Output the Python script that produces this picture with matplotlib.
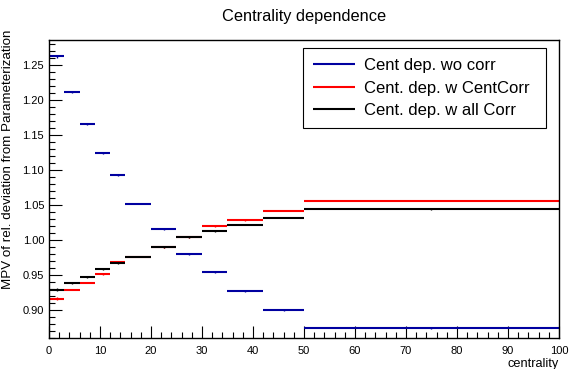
import matplotlib
matplotlib.use("Agg")
import matplotlib.pyplot as plt
import numpy as np
from matplotlib.ticker import MultipleLocator, FormatStrFormatter

plt.rcParams["font.family"] = ["Liberation Sans", "DejaVu Sans"]

# centrality bin edges
edges = [0, 3, 6, 9, 12, 15, 20, 25, 30, 35, 42, 50, 100]

mpv_wo_corr = [1.262, 1.211, 1.165, 1.124, 1.093, 1.052, 1.015, 0.980, 0.954, 0.927, 0.900, 0.874]
mpv_cent_corr = [0.916, 0.929, 0.939, 0.951, 0.968, 0.976, 0.990, 1.004, 1.020, 1.028, 1.042, 1.056]
mpv_all_corr = [0.929, 0.938, 0.947, 0.958, 0.967, 0.976, 0.990, 1.004, 1.013, 1.022, 1.032, 1.044]
err = [0.002, 0.001, 0.001, 0.001, 0.001, 0.001, 0.001, 0.001, 0.001, 0.001, 0.001, 0.001]

series = [
    (mpv_wo_corr, "#0000a0", "Cent dep. wo corr"),
    (mpv_cent_corr, "#ff0000", "Cent. dep. w CentCorr"),
    (mpv_all_corr, "#000000", "Cent. dep. w all Corr"),
]

fig = plt.figure(figsize=(5.69, 3.69), dpi=100)
ax = fig.add_axes([0.0861, 0.084, 0.8963, 0.8076])

lo = np.array(edges[:-1])
hi = np.array(edges[1:])
mid = 0.5 * (lo + hi)
for vals, col, lab in series:
    ax.hlines(vals, lo, hi, colors=col, lw=1.5, label=lab)
    ax.vlines(mid, np.array(vals) - np.array(err), np.array(vals) + np.array(err), colors=col, lw=1)

ax.set_xlim(0, 100)
ax.set_ylim(0.86, 1.2855)
ax.xaxis.set_major_locator(MultipleLocator(10))
ax.xaxis.set_minor_locator(MultipleLocator(2))
ax.yaxis.set_major_locator(MultipleLocator(0.05))
ax.yaxis.set_minor_locator(MultipleLocator(0.01))
ax.yaxis.set_major_formatter(FormatStrFormatter("%.2f"))
ax.tick_params(which="both", direction="in", top=False, right=False, labelsize=8, width=0.8)
ax.tick_params(which="major", length=9)
ax.tick_params(which="minor", length=4.5)
ax.tick_params(axis="x", pad=6)
for s in ax.spines.values():
    s.set_linewidth(1.0)

ax.set_title("Centrality dependence", fontsize=11.8, pad=14)
fig.text(8 / 569, 1 - 30 / 369, "MPV of rel. deviation from Parameterization",
         rotation=90, ha="center", va="top", fontsize=9.6)
ax.set_xlabel("centrality", fontsize=9.2, loc="right", labelpad=1)

leg = ax.legend(loc="upper left", bbox_to_anchor=(0.498, 0.973, 0.4765, 0.0),
                mode="expand", borderaxespad=0, fontsize=12, fancybox=False,
                edgecolor="black", framealpha=1, handlelength=2.5, borderpad=0.6,
                labelspacing=0.45, handletextpad=0.55)
leg.get_frame().set_linewidth(0.8)

fig.savefig("out.png", dpi=100)
